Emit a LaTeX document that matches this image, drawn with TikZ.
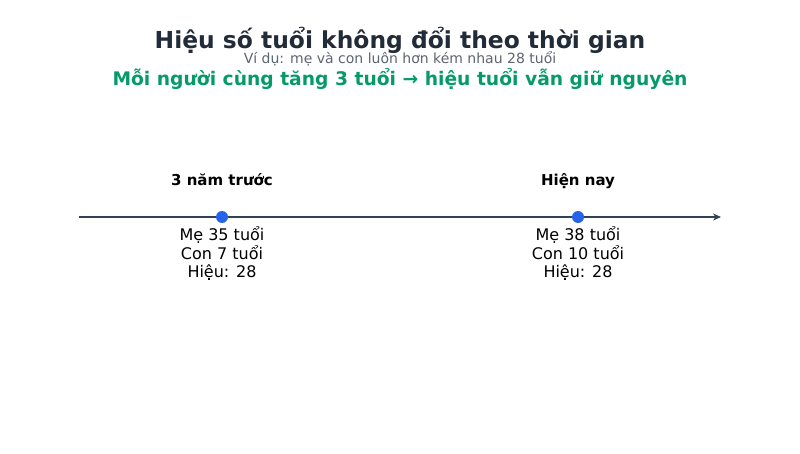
\documentclass[tikz,border=0pt]{standalone}
\usepackage{fontspec}
\setmainfont{DejaVu Sans}
\usetikzlibrary{arrows.meta}
\definecolor{titlegray}{HTML}{222B38}
\definecolor{subgray}{HTML}{5B6472}
\definecolor{greentxt}{HTML}{079A69}
\definecolor{axisgray}{HTML}{334155}
\definecolor{dotblue}{HTML}{2563EB}
\tikzset{
  pointdot/.style={circle,fill=dotblue,inner sep=0pt,minimum size=12pt},
  whenlabel/.style={font=\fontsize{15}{18}\selectfont\bfseries,anchor=base},
  agebox/.style={align=center,font=\fontsize{16}{18}\selectfont,anchor=base}
}

\begin{document}
\begin{tikzpicture}[x=1pt,y=-1pt]
    \useasboundingbox (0,0) rectangle (800,454);
    \node[font=\fontsize{23.4}{26}\selectfont\bfseries,text=titlegray] (title) at (400,40) {Hiệu số tuổi không đổi theo thời gian};
    \node[font=\fontsize{14}{16}\selectfont,text=subgray] (sub) at (400,59) {Ví dụ: mẹ và con luôn hơn kém nhau 28 tuổi};
    \node[font=\fontsize{18.7}{22}\selectfont\bfseries,text=greentxt] (rule) at (400,79) {Mỗi người cùng tăng 3 tuổi → hiệu tuổi vẫn giữ nguyên};

    % truc thoi gian
    \coordinate (start) at (79,217);
    \coordinate (end) at (721,217);
    \draw[axisgray,line width=2.2pt,-{Stealth[length=8pt,width=7pt]}] (start) -- (end);

    \node[pointdot] (before) at (222,217) {};
    \node[pointdot] (now) at (578,217) {};

    \node[whenlabel] (beforelbl) at (222,186) {3 năm trước};
    \node[whenlabel] (nowlbl) at (578,186) {Hiện nay};

    % base = dong cuoi
    \node[agebox] (beforeage) at (222,277) {Mẹ 35 tuổi\\Con 7 tuổi\\Hiệu: 28};
    \node[agebox] (nowage) at (578,277) {Mẹ 38 tuổi\\Con 10 tuổi\\Hiệu: 28};
\end{tikzpicture}
\end{document}
